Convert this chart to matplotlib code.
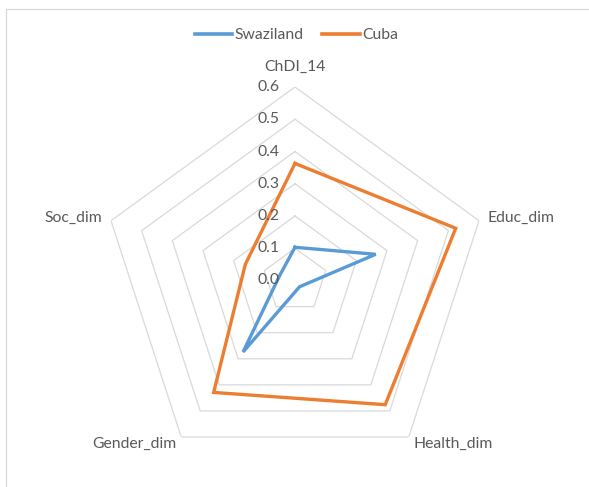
import numpy as np
import matplotlib
matplotlib.use("Agg")
import matplotlib.pyplot as plt
from matplotlib.transforms import offset_copy
from matplotlib.patches import Rectangle

# Dimension scores per country
categories = ["ChDI_14", "Educ_dim", "Health_dim", "Gender_dim", "Soc_dim"]
swaziland = [0.103, 0.263, 0.024, 0.274, 0.05]
cuba = [0.363, 0.524, 0.476, 0.429, 0.162]
series_names = ["Swaziland", "Cuba"]
levels = [0.0, 0.1, 0.2, 0.3, 0.4, 0.5, 0.6]
level_labels = ["0.0", "0.1", "0.2", "0.3", "0.4", "0.5", "0.6"]

plt.rcParams["font.family"] = ["Lato", "DejaVu Sans"]
TEXT = "#595959"
GRID = "#D9D9D9"
BLUE = "#5B9BD5"
ORANGE = "#ED7D31"
FS = 11.3

W, H, DPI = 589, 487, 100
fig = plt.figure(figsize=(W / DPI, H / DPI), dpi=DPI)

# chart-area frame
fig.patches.append(Rectangle((6 / W, -0.1), 1.2, (H - 9) / H + 0.1,
                             transform=fig.transFigure, fill=False,
                             edgecolor=GRID, linewidth=0.9))

cx, cy, R = 295, H - 280.5, 193.5
ax = fig.add_axes([(cx - R) / W, (cy - R) / H, 2 * R / W, 2 * R / H],
                  projection="polar")
ax.set_theta_offset(np.pi / 2)
ax.set_theta_direction(-1)
ax.set_ylim(0, 0.6)
ax.grid(False)
ax.spines["polar"].set_visible(False)
ax.set_xticks([])
ax.set_yticks([])
ax.patch.set_alpha(0)

n = len(categories)
theta = np.linspace(0, 2 * np.pi, n, endpoint=False)
theta_c = np.append(theta, theta[0])

# pentagon gridlines
for lv in levels[1:]:
    ax.plot(theta_c, [lv] * (n + 1), color=GRID, lw=0.9, zorder=1)

# series
for vals, col, name in [(swaziland, BLUE, series_names[0]),
                        (cuba, ORANGE, series_names[1])]:
    v = np.append(vals, vals[0])
    ax.plot(theta_c, v, color=col, lw=2.4, label=name, zorder=3,
            solid_joinstyle="miter", clip_on=False)

# radial value labels along the top axis
tr = offset_copy(ax.transData, fig=fig, x=-16, y=0, units="dots")
for lv, lab in zip(levels, level_labels):
    ax.text(0, lv, lab, transform=tr, ha="right", va="center",
            fontsize=FS, color=TEXT, zorder=4)

# category labels
cat_pos = [(0, 20, "center", "center"),
           (8, 3, "left", "center"),
           (5, -7, "left", "center"),
           (-5, -7, "right", "center"),
           (-9, 3, "right", "center")]
for t, lab, (dx, dy, ha, va) in zip(theta, categories, cat_pos):
    trc = offset_copy(ax.transData, fig=fig, x=dx, y=dy, units="dots")
    ax.text(t, 0.6, lab, transform=trc, ha=ha, va=va,
            fontsize=FS, color=TEXT)

leg = fig.legend(loc="center", bbox_to_anchor=(296.5 / W, (H - 35) / H),
                 ncol=2, frameon=False, fontsize=FS, handlelength=2.4,
                 handletextpad=0.15, columnspacing=1.2)
for t in leg.get_texts():
    t.set_color(TEXT)
for l in leg.get_lines():
    l.set_linewidth(2.6)

fig.savefig("out.png", dpi=DPI)
